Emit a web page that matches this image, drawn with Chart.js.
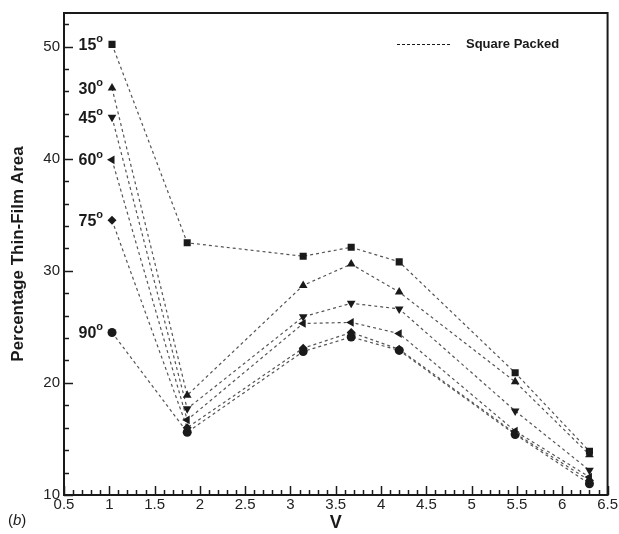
<!DOCTYPE html>
<html>
<head>
<meta charset="utf-8">
<script src="https://cdn.jsdelivr.net/npm/chart.js@4"></script>
<style>
  html, body { margin: 0; padding: 0; background: #fff; }
  #wrap { width: 619px; height: 534px; position: relative; }
</style>
</head>
<body>
<div id="wrap"><canvas id="chart" width="619" height="534"></canvas></div>
<script>
// V positions of the measurements
const vValues = [1.03, 1.86, 3.14, 3.67, 4.2, 5.48, 6.3];

// Percentage thin-film area per contact angle
const angle15 = [50.2, 32.5, 31.3, 32.1, 30.8, 20.9, 13.9];
const angle30 = [46.3, 18.9, 28.7, 30.6, 28.1, 20.1, 13.6];
const angle45 = [43.7, 17.7, 25.9, 27.1, 26.6, 17.5, 12.2];
const angle60 = [39.9, 16.7, 25.3, 25.4, 24.4, 15.7, 11.6];
const angle75 = [34.5, 16.0, 23.1, 24.5, 23.0, 15.5, 11.3];
const angle90 = [24.5, 15.6, 22.8, 24.1, 22.9, 15.4, 11.0];

const angleLabels = ['15', '30', '45', '60', '75', '90'];
const xTicks = [0.5, 1, 1.5, 2, 2.5, 3, 3.5, 4, 4.5, 5, 5.5, 6, 6.5];
const yTicks = [10, 20, 30, 40, 50];

const INK = '#1a1a1a';
const LINE = '#555';
const FONT = '"Liberation Sans", Arial, sans-serif';

const markers = [
    { style: 'rect', rotation: 0, radius: 5 },
    { style: 'triangle', rotation: 0, radius: 5 },
    { style: 'triangle', rotation: 180, radius: 5 },
    { style: 'triangle', rotation: 270, radius: 5 },
    { style: 'rectRot', rotation: 0, radius: 4.5 },
    { style: 'circle', rotation: 0, radius: 4.5 }
];

const series = [angle15, angle30, angle45, angle60, angle75, angle90];

const datasets = series.map((vals, i) => ({
    label: angleLabels[i],
    data: vals.map((y, j) => ({ x: vValues[j], y })),
    showLine: true,
    borderColor: LINE,
    borderWidth: 1.2,
    borderDash: [3, 3],
    pointStyle: markers[i].style,
    rotation: markers[i].rotation,
    pointRadius: markers[i].radius,
    pointBackgroundColor: INK,
    pointBorderColor: INK,
    pointBorderWidth: 0
}));

// frame, inward ticks, angle labels and legend
const decorations = {
    id: 'decorations',
    afterDraw(chart) {
        const { ctx, chartArea: a, scales: { x, y } } = chart;
        ctx.save();
        ctx.strokeStyle = INK;
        ctx.lineWidth = 1.5;

        // x ticks along the bottom, pointing up
        for (let k = 5; k <= 65; k++) {
            const px = Math.round(x.getPixelForValue(k / 10)) + 0.5;
            const len = k % 5 === 0 ? 9 : 5;
            ctx.beginPath();
            ctx.moveTo(px, a.bottom);
            ctx.lineTo(px, a.bottom - len);
            ctx.stroke();
        }
        // y ticks along the left, pointing right
        for (let v = 10; v <= 52; v += 2) {
            const py = Math.round(y.getPixelForValue(v)) + 0.5;
            const len = v % 10 === 0 ? 9 : 5;
            ctx.beginPath();
            ctx.moveTo(a.left, py);
            ctx.lineTo(a.left + len, py);
            ctx.stroke();
        }

        // frame
        ctx.lineWidth = 2;
        ctx.strokeRect(a.left, a.top, a.right - a.left, a.bottom - a.top);

        // angle labels beside the first point of each curve
        ctx.fillStyle = INK;
        ctx.textBaseline = 'middle';
        series.forEach((vals, i) => {
            const px = x.getPixelForValue(vValues[0]) - 9;
            const py = y.getPixelForValue(vals[0]);
            ctx.font = 'bold 11px ' + FONT;
            ctx.textAlign = 'right';
            ctx.fillText('o', px, py - 5);
            const ow = ctx.measureText('o').width;
            ctx.font = 'bold 16px ' + FONT;
            ctx.fillText(angleLabels[i], px - ow, py + 1);
        });

        // legend
        ctx.strokeStyle = INK;
        ctx.lineWidth = 1.2;
        ctx.setLineDash([3, 2]);
        ctx.beginPath();
        ctx.moveTo(397, 44.5);
        ctx.lineTo(450, 44.5);
        ctx.stroke();
        ctx.setLineDash([]);
        ctx.font = 'bold 13px ' + FONT;
        ctx.textAlign = 'left';
        ctx.fillText('Square Packed', 466, 44);

        // panel tag
        ctx.font = '15px ' + FONT;
        ctx.textAlign = 'left';
        ctx.fillText('(', 8, 521);
        let w = ctx.measureText('(').width;
        ctx.font = 'italic 15px ' + FONT;
        ctx.fillText('b', 8 + w, 521);
        w += ctx.measureText('b').width;
        ctx.font = '15px ' + FONT;
        ctx.fillText(')', 8 + w, 521);
        ctx.restore();
    }
};

new Chart(document.getElementById('chart'), {
    type: 'scatter',
    data: { datasets },
    options: {
        responsive: false,
        animation: false,
        layout: { padding: { top: 10, right: 11, left: 0, bottom: 0 } },
        plugins: { legend: { display: false }, tooltip: { enabled: false } },
        scales: {
            x: {
                type: 'linear',
                min: 0.5,
                max: 6.5,
                afterBuildTicks: s => { s.ticks = xTicks.map(v => ({ value: v })); },
                afterFit: s => { s.height = 39; },
                grid: { display: false, drawTicks: false },
                border: { display: false },
                ticks: {
                    padding: 1,
                    color: '#222',
                    font: { family: FONT, size: 15 },
                    maxRotation: 0,
                    autoSkip: false,
                    callback: v => String(v)
                },
                title: {
                    display: true,
                    text: 'V',
                    color: INK,
                    padding: { top: -4, bottom: 0 },
                    font: { family: FONT, size: 18, weight: 'bold' }
                }
            },
            y: {
                type: 'linear',
                min: 10,
                max: 53,
                afterBuildTicks: s => { s.ticks = yTicks.map(v => ({ value: v })); },
                afterFit: s => { s.width = 64; },
                grid: { display: false, drawTicks: false },
                border: { display: false },
                ticks: {
                    padding: 4,
                    color: '#222',
                    font: { family: FONT, size: 15 }
                },
                title: {
                    display: true,
                    text: 'Percentage Thin-Film Area',
                    color: INK,
                    padding: { top: 8, bottom: 0 },
                    font: { family: FONT, size: 17, weight: 'bold' }
                }
            }
        }
    },
    plugins: [decorations]
});
</script>
</body>
</html>
